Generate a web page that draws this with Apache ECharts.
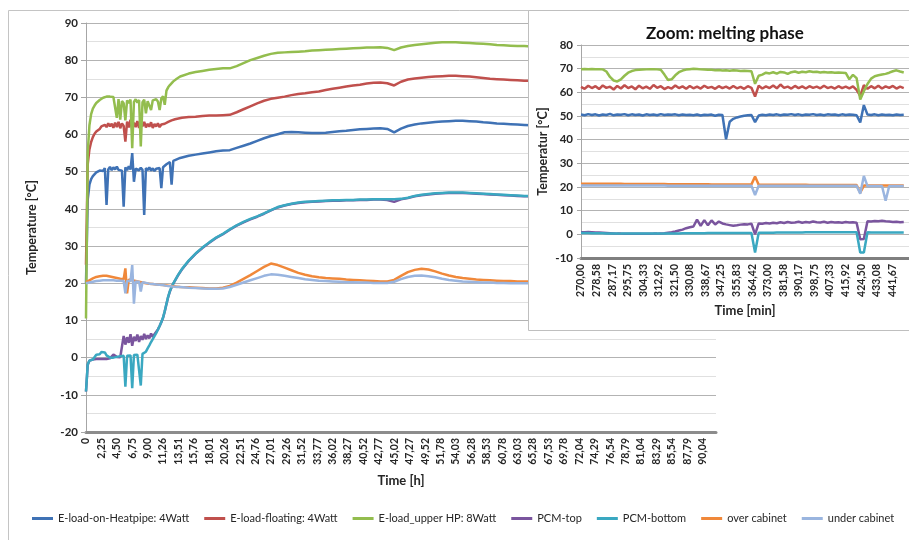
<!DOCTYPE html>
<html><head><meta charset="utf-8">
<script src="https://cdn.jsdelivr.net/npm/echarts@6/dist/echarts.min.js"></script>
<style>html,body{margin:0;padding:0;background:#fff}#c{width:909px;height:540px}</style>
</head><body><div id="c"></div>
<script>
// ---------- Main chart: time axis [h] ----------
const hourTicks = ['0','2,25','4,50','6,75','9,00','11,26','13,51','15,76','18,01','20,26','22,51','24,76','27,01','29,26','31,52','33,77','36,02','38,27','40,52','42,77','45,02','47,27','49,52','51,78','54,03','56,28','58,53','60,78','63,03','65,28','67,53','69,78','72,04','74,29','76,54','78,79','81,04','83,29','85,54','87,79','90,04'];
const HOUR_STEP = 2.2511;

const mainHours = [
  0,0.25,0.5,0.75,1,1.25,1.5,1.75,2,2.25,2.5,2.75,
  3,3.25,3.5,3.75,4,4.25,4.5,4.75,5,5.25,5.5,5.75,
  6,6.25,6.5,6.75,7,7.25,7.5,7.75,8,8.25,8.5,8.75,
  9,9.25,9.5,9.75,10,10.25,10.5,10.75,11,11.25,11.5,11.75,
  12,12.25,12.5,12.75,13,13.25,13.5,13.75,14,
  15,16,17,18,19,20,21,22,23,24,
  25,26,27,28,29,30,31,32,33,34,
  35,36,37,38,39,40,41,42,43,44,
  45,46,47,48,49,50,51,52,53,54,
  55,56,57,58,59,60,61,62,63,64,
  65,66,70,74,78,82,86,90,92];

const heatpipe = [
  20,42.5,46.5,48.0,48.8,49.3,49.8,50.0,50.3,50.8,50.2,51.0,
  41.1,50.6,51.3,50.4,51.2,50.6,51.4,50.5,51.0,50.3,40.6,51.2,
  50.4,51.5,50.6,55.0,47.3,50.8,51.3,50.4,51.1,50.5,38.4,51.0,
  50.4,51.2,50.3,50.9,50.2,50.8,50.4,51.0,45.6,51.2,51.6,52.0,
  52.3,52.6,46.5,52.9,53.1,53.3,53.5,53.7,53.9,
  54.3,54.6,54.9,55.2,55.5,55.7,55.8,56.4,57.0,57.6,
  58.3,59.0,59.6,60.1,60.6,60.7,60.6,60.5,60.4,60.4,
  60.5,60.7,60.9,61.0,61.2,61.4,61.5,61.6,61.7,61.5,
  60.6,61.6,62.3,62.7,63.0,63.2,63.4,63.5,63.6,63.7,
  63.7,63.6,63.5,63.3,63.2,63.0,62.9,62.8,62.7,62.6,
  62.5,62.4,62.3,62.2,62.1,62.0,61.9,61.9,61.9];

const floating = [
  25,52,56,58,59.3,60.2,60.8,61.3,61.5,62.2,61.8,62.6,
  62.0,63.0,62.2,62.9,61.8,63.2,62.0,63.4,61.7,63.0,62.3,58.1,
  63.5,61.9,64.0,61.5,63.2,62.0,63.6,61.8,63.0,62.2,63.4,61.9,
  62.9,62.1,63.3,61.8,62.8,62.2,63.0,62.0,62.7,62.3,62.9,63.1,
  63.4,63.6,63.8,63.9,64.1,64.2,64.3,64.4,64.5,
  64.7,64.8,65.0,65.1,65.1,65.2,65.3,66.0,66.8,67.6,
  68.4,69.1,69.6,69.9,70.2,70.6,70.9,71.1,71.4,71.6,
  72.0,72.3,72.6,72.9,73.2,73.4,73.7,73.9,74.0,73.8,
  73.2,74.2,74.8,75.1,75.3,75.5,75.6,75.7,75.8,75.8,
  75.7,75.6,75.4,75.2,75.0,74.9,74.8,74.7,74.6,74.5,
  74.5,74.4,74.2,74.0,73.9,73.8,73.7,73.6,73.6];

const upperHP = [
  10.5,55,62.5,65.5,67,67.8,68.5,68.9,69.3,69.6,69.9,70.1,
  70.2,70.4,70.2,70.3,70.1,70.3,64.5,69.5,64.0,69.0,68.4,63.8,
  69.2,68.5,69.4,56.3,68.8,69.5,68.6,69.3,56.8,68.7,69.4,65.7,
  69.0,68.5,66.6,69.2,68.8,69.5,68.9,66.6,69.7,70.3,68.0,71.8,
  72.7,73.3,73.8,74.3,74.7,75.0,75.3,75.6,75.8,
  76.4,76.8,77.1,77.4,77.6,77.8,77.8,78.4,79.2,80.0,
  80.6,81.2,81.7,82.0,82.1,82.2,82.3,82.4,82.6,82.7,
  82.8,82.9,83.0,83.1,83.2,83.3,83.4,83.4,83.5,83.3,
  82.7,83.4,83.8,84.1,84.3,84.5,84.7,84.8,84.8,84.8,
  84.7,84.6,84.5,84.4,84.3,84.1,84.0,83.9,83.8,83.8,
  83.7,83.7,83.5,83.3,83.2,83.0,82.9,82.8,82.8];

const pcmTop = [
  -9.1,-2.0,-0.8,-0.6,-0.5,-0.4,-0.4,-0.4,-0.4,-0.4,-0.4,-0.4,
  -0.4,-0.3,-0.2,0.3,0.8,0.5,0.2,0.0,0.1,0.3,5.8,3.5,
  5.5,4.0,6.3,3.2,5.6,4.5,6.2,4.2,5.8,4.8,6.4,5.0,
  6.0,5.2,6.5,5.6,6.3,6.8,7.6,8.5,9.5,10.7,12.4,14.4,
  16.3,17.8,18.9,19.9,20.7,21.5,22.3,23.0,23.7,
  26.0,27.9,29.5,30.9,32.2,33.2,34.4,35.5,36.4,37.2,
  37.9,38.7,39.6,40.4,40.9,41.3,41.6,41.8,41.9,42.0,
  42.1,42.2,42.2,42.3,42.3,42.4,42.4,42.5,42.5,42.4,
  41.9,42.6,42.9,43.4,43.7,43.9,44.1,44.2,44.3,44.3,
  44.3,44.2,44.1,44.0,43.9,43.8,43.7,43.6,43.5,43.4,
  43.4,43.3,43.2,43.1,43.0,43.0,42.9,42.9,42.9];

const pcmBottom = [
  -9.1,-1.8,-0.8,-0.6,-0.5,-0.3,0.8,1.3,0.9,1.5,1.0,1.4,
  0.6,0.2,0.0,-0.1,0.0,0.1,0.2,0.3,0.4,0.4,0.5,-7.8,
  0.5,0.6,0.6,-8.2,0.7,0.8,0.8,0.9,-7.5,1.0,1.2,1.6,
  2.5,3.3,4.2,5.0,5.8,6.6,7.5,8.5,9.6,10.8,12.5,14.5,
  16.4,17.9,19.0,20.0,20.8,21.6,22.4,23.1,23.8,
  26.1,28.0,29.6,31.0,32.3,33.3,34.5,35.6,36.5,37.3,
  38.0,38.8,39.7,40.5,41.0,41.4,41.7,41.9,42.0,42.1,
  42.2,42.3,42.3,42.4,42.4,42.5,42.5,42.6,42.6,42.6,
  42.6,42.7,43.0,43.5,43.8,44.0,44.2,44.3,44.4,44.4,
  44.4,44.3,44.2,44.1,44.0,43.9,43.8,43.7,43.6,43.5,
  43.5,43.4,43.3,43.2,43.1,43.1,43.0,43.0,43.0];

const overCabinet = [
  20.3,20.5,20.8,21.0,21.3,21.5,21.7,21.8,21.9,22.0,22.0,22.0,
  22.0,21.9,21.8,21.7,21.6,21.5,21.4,21.3,21.2,21.1,21.1,24.0,
  17.3,21.0,20.9,20.8,20.7,20.6,20.5,20.4,20.3,20.2,20.1,20.0,
  19.9,19.9,19.8,19.8,19.7,19.7,19.6,19.6,19.5,19.5,19.4,19.4,
  19.3,19.3,19.2,19.2,19.1,19.1,19.0,19.0,19.0,
  18.9,18.8,18.7,18.6,18.6,18.8,19.3,20.2,21.2,22.2,
  23.3,24.4,25.3,24.9,24.2,23.5,22.8,22.3,21.9,21.6,
  21.4,21.3,21.2,21.0,20.9,20.8,20.7,20.6,20.5,20.5,
  20.9,22.0,23.0,23.6,23.9,23.7,23.2,22.6,22.1,21.7,
  21.4,21.2,21.0,20.9,20.8,20.7,20.6,20.6,20.5,20.5,
  20.5,20.4,20.4,20.3,20.3,20.2,20.2,20.2,20.2];

const underCabinet = [
  20.0,20.1,20.2,20.3,20.4,20.5,20.6,20.6,20.7,20.7,20.8,20.8,
  20.8,20.8,20.8,20.8,20.8,20.8,20.7,20.7,20.7,20.7,20.6,17.3,
  20.6,20.6,20.6,24.9,14.5,20.5,20.5,20.4,17.8,20.3,20.2,20.1,
  20.0,19.9,19.8,19.8,19.7,19.7,19.6,19.6,19.5,19.5,19.4,19.3,
  19.3,19.2,19.2,19.1,19.1,19.0,19.0,19.0,18.9,
  18.8,18.7,18.6,18.5,18.5,18.6,19.0,19.6,20.2,20.8,
  21.4,22.0,22.4,22.3,22.0,21.7,21.4,21.1,20.9,20.7,
  20.6,20.5,20.4,20.3,20.3,20.2,20.2,20.1,20.1,20.1,
  20.4,21.1,21.7,22.0,22.1,21.9,21.6,21.2,20.9,20.7,
  20.5,20.4,20.3,20.2,20.2,20.1,20.1,20.0,20.0,20.0,
  20.0,20.0,20.0,20.0,20.0,20.0,20.0,20.0,20.0];

// ---------- Inset: "Zoom: melting phase", time axis [min] ----------
const minuteTicks = ['270,00','278,58','287,17','295,75','304,33','312,92','321,50','330,08','338,67','347,25','355,83','364,42','373,00','381,58','390,17','398,75','407,33','415,92','424,50','433,08','441,67'];
const MIN_STEP = 8.583333;

const insetMinutes = [
  270,272,274,276,278,280,282,284,286,288,
  290,292,294,296,298,300,302,304,306,308,
  310,312,314,316,318,320,322,324,326,328,
  330,332,334,336,338,340,342,344,346,348,
  350,352,354,356,358,360,362,364,366,368,
  370,372,374,376,378,380,382,384,386,388,
  390,392,394,396,398,400,402,404,406,408,
  410,412,414,416,418,420,422,424,426,428,
  430,432,434,436,438,440,442,444,446,448];

const zHeatpipe = [
  50.6,50.3,50.8,50.4,50.7,50.2,50.6,50.4,50.9,50.3,
  50.6,50.5,50.8,50.3,50.7,50.4,50.6,50.2,50.7,50.4,
  50.6,50.3,50.8,50.4,50.6,50.5,50.7,50.3,50.6,50.4,
  50.5,50.3,50.6,50.2,50.5,50.4,50.6,50.1,50.5,50.4,
  40.2,47.6,48.8,49.4,49.8,50.1,50.3,50.4,47.4,50.2,
  50.5,50.3,50.6,50.4,50.7,50.3,50.6,50.5,50.8,50.4,
  50.7,50.3,50.6,50.5,50.8,50.4,50.6,50.3,50.7,50.5,
  50.6,50.3,50.7,50.4,50.6,50.5,50.3,47.3,54.6,50.6,
  50.4,50.7,50.3,50.6,50.4,50.5,50.3,50.6,50.4,50.5];

const zFloating = [
  62.3,61.5,62.8,61.8,62.6,61.4,62.9,61.9,62.4,61.2,
  62.7,61.6,63.0,61.8,62.5,61.3,62.8,61.7,62.4,61.5,
  63.1,61.9,62.6,61.4,62.2,61.6,62.9,61.8,62.5,61.5,
  62.7,61.7,62.4,61.6,62.8,61.9,62.3,61.5,62.6,61.8,
  62.4,61.6,62.7,61.7,62.3,61.5,62.6,61.9,58.2,62.8,
  61.6,62.5,61.8,62.9,61.7,63.3,61.9,62.4,61.6,62.7,
  61.8,62.5,61.6,62.6,61.9,62.4,61.7,62.8,61.8,62.3,
  61.6,62.6,61.8,62.4,61.7,62.5,61.0,58.5,63.0,61.5,
  62.6,61.7,62.8,61.6,62.5,61.9,62.7,61.6,62.4,61.8];

const zUpperHP = [
  69.8,69.9,69.8,69.9,69.8,69.8,69.7,68.8,66.5,65.0,
  64.6,65.5,67.0,68.3,69.0,69.4,69.5,69.6,69.7,69.8,
  69.8,69.7,69.5,67.5,65.2,65.5,67.2,68.5,69.2,69.6,
  69.8,70.0,69.9,69.7,69.6,69.5,69.5,69.3,69.4,69.2,
  69.3,69.1,69.3,69.2,69.0,69.1,69.0,68.9,63.6,67.0,
  67.5,68.3,68.0,68.5,67.9,68.6,68.4,67.8,68.5,68.8,
  68.3,68.7,68.5,68.9,68.6,68.7,68.4,68.6,68.4,68.5,
  68.3,68.4,68.3,68.2,65.5,67.4,66.0,57.0,60.5,63.5,
  65.8,66.8,67.2,67.5,67.8,68.3,68.9,69.3,68.8,68.4];

const zPcmTop = [
  0.9,0.9,1.0,0.9,0.8,0.8,0.7,0.6,0.5,0.4,
  0.3,0.3,0.2,0.2,0.2,0.2,0.2,0.2,0.2,0.2,
  0.3,0.3,0.4,0.5,0.7,0.9,1.2,1.6,2.0,2.6,
  3.0,3.3,6.2,3.6,6.0,3.8,5.9,4.2,5.4,4.6,
  4.2,3.9,3.6,3.8,4.1,4.3,4.2,4.5,0.0,4.6,
  4.5,4.8,4.6,4.9,4.7,5.1,4.8,5.2,4.9,5.0,
  5.3,4.9,5.2,5.0,5.4,5.1,5.0,5.3,4.9,5.2,
  5.0,5.1,4.9,5.2,5.0,5.1,4.9,-2.1,-2.0,5.5,
  5.4,5.6,5.5,5.7,5.5,5.4,5.2,5.3,5.1,5.2];

const zPcmBottom = [
  0.6,0.6,0.6,0.5,0.5,0.5,0.5,0.4,0.4,0.4,
  0.4,0.3,0.3,0.3,0.3,0.3,0.3,0.3,0.3,0.3,
  0.3,0.3,0.3,0.4,0.4,0.4,0.4,0.4,0.5,0.5,
  0.5,0.5,0.5,0.5,0.5,0.6,0.6,0.6,0.6,0.6,
  0.6,0.6,0.6,0.6,0.6,0.6,0.6,0.6,-7.7,0.7,
  0.7,0.7,0.7,0.7,0.8,0.8,0.8,0.8,0.8,0.8,
  0.8,0.8,0.9,0.9,0.9,0.9,0.9,0.9,0.9,0.9,
  0.9,0.9,0.9,0.9,0.9,0.9,0.9,-7.7,-7.7,0.9,
  0.8,0.8,0.8,0.8,0.8,0.8,0.8,0.8,0.8,0.8];

const zOverCabinet = [
  21.4,21.4,21.4,21.4,21.4,21.4,21.4,21.4,21.4,21.4,
  21.4,21.4,21.3,21.3,21.3,21.3,21.3,21.3,21.3,21.3,
  21.3,21.3,21.3,21.3,21.2,21.2,21.2,21.2,21.2,21.2,
  21.2,21.2,21.2,21.2,21.2,21.2,21.1,21.1,21.1,21.1,
  21.1,21.1,21.1,21.1,21.1,21.1,21.1,21.1,24.4,20.9,
  20.9,20.9,20.9,20.9,20.9,20.9,20.9,20.9,20.9,20.9,
  20.9,20.9,20.9,20.8,20.8,20.8,20.8,20.8,20.8,20.8,
  20.8,20.8,20.8,20.8,20.8,20.8,20.8,17.6,20.6,20.6,
  20.6,20.6,20.6,20.6,20.6,20.6,20.6,20.6,20.6,20.6];

const zUnderCabinet = [
  20.6,20.6,20.6,20.6,20.6,20.6,20.6,20.6,20.6,20.6,
  20.6,20.6,20.6,20.6,20.6,20.6,20.6,20.6,20.6,20.6,
  20.6,20.6,20.6,20.6,20.5,20.5,20.5,20.5,20.5,20.5,
  20.5,20.5,20.5,20.5,20.5,20.5,20.5,20.5,20.5,20.5,
  20.5,20.5,20.5,20.5,20.5,20.5,20.5,20.5,16.6,20.5,
  20.5,20.5,20.5,20.5,20.5,20.5,20.5,20.5,20.5,20.5,
  20.5,20.5,20.5,20.5,20.5,20.5,20.5,20.5,20.5,20.5,
  20.5,20.5,20.5,20.5,20.5,20.5,20.5,17.2,24.7,20.4,
  20.4,20.4,20.4,20.4,14.2,20.4,20.4,20.4,20.4,20.4];

const seriesNames = ['E-load-on-Heatpipe: 4Watt','E-load-floating: 4Watt','E-load_upper HP: 8Watt','PCM-top','PCM-bottom','over cabinet','under cabinet'];
const seriesColors = ['#3f72b5','#c0504d','#93bd4e','#7a559e','#3aa8c1','#f0883a','#9ab5df'];
const mainSeries = [heatpipe, floating, upperHP, pcmTop, pcmBottom, overCabinet, underCabinet];
const insetSeries = [zHeatpipe, zFloating, zUpperHP, zPcmTop, zPcmBottom, zOverCabinet, zUnderCabinet];

// ---------- build ----------
const FONT = 'Lato, "DejaVu Sans", sans-serif';
const TXT = '#262626';

function tickFormatter(labels, step, min) {
  return function (v) {
    const k = Math.round((v - min) / step);
    if (Math.abs(v - min - k * step) > 1e-3) return '';
    return labels[k] !== undefined ? labels[k] : '';
  };
}

const chart = echarts.init(document.getElementById('c'), null, {renderer: 'canvas'});

const series = [];
seriesNames.forEach((n, i) => {
  series.push({
    name: n, type: 'line', xAxisIndex: 0, yAxisIndex: 0,
    data: mainHours.map((t, j) => [t, mainSeries[i][j]]),
    showSymbol: false, symbol: 'none', z: 2, silent: true,
    lineStyle: {width: 2.5, color: seriesColors[i]}, itemStyle: {color: seriesColors[i]}
  });
});
seriesNames.forEach((n, i) => {
  series.push({
    name: n, type: 'line', xAxisIndex: 1, yAxisIndex: 1,
    data: insetMinutes.map((t, j) => [t, insetSeries[i][j]]),
    showSymbol: false, symbol: 'none', z: 10, silent: true,
    lineStyle: {width: 2.5, color: seriesColors[i]}, itemStyle: {color: seriesColors[i]}
  });
});

const labelStyle = {fontFamily: FONT, fontWeight: 'bold', color: TXT};

chart.setOption({
  animation: false,
  backgroundColor: '#fff',
  grid: [
    {left: 86, top: 23, width: 630, height: 409},
    {left: 581, top: 45, width: 332, height: 213}
  ],
  xAxis: [
    {
      type: 'value', gridIndex: 0, min: 0, max: 92, interval: HOUR_STEP,
      axisLine: {onZero: false, lineStyle: {color: '#8c8c8c', width: 3}},
      axisTick: {show: false}, splitLine: {show: false},
      axisLabel: Object.assign({rotate: 90, fontSize: 10.5, margin: 6, showMaxLabel: false,
        formatter: tickFormatter(hourTicks, HOUR_STEP, 0)}, labelStyle),
      name: 'Time [h]', nameLocation: 'middle', nameGap: 42,
      nameTextStyle: Object.assign({fontSize: 13}, labelStyle)
    },
    {
      type: 'value', gridIndex: 1, min: 270, max: 450.9, interval: MIN_STEP, z: 8,
      axisLine: {onZero: false, lineStyle: {color: '#7f7f7f', width: 3}},
      axisTick: {show: false}, splitLine: {show: false},
      axisLabel: Object.assign({rotate: 90, fontSize: 10.5, margin: 6, showMaxLabel: false,
        formatter: tickFormatter(minuteTicks, MIN_STEP, 270)}, labelStyle),
      name: 'Time [min]', nameLocation: 'middle', nameGap: 46,
      nameTextStyle: Object.assign({fontSize: 13}, labelStyle)
    }
  ],
  yAxis: [
    {
      type: 'value', gridIndex: 0, min: -20, max: 90, interval: 10,
      axisLine: {show: true, lineStyle: {color: '#a6a6a6', width: 1}},
      axisTick: {show: true, length: 5, lineStyle: {color: '#a6a6a6'}},
      axisLabel: Object.assign({fontSize: 11.5, margin: 8}, labelStyle),
      splitLine: {show: true, lineStyle: {color: '#b3b3b3', width: 1}},
      minorTick: {show: false, splitNumber: 2},
      minorSplitLine: {show: true, lineStyle: {color: '#e0e0e0', width: 1}},
      name: 'Temperature [°C]', nameLocation: 'middle', nameGap: 48,
      nameTextStyle: Object.assign({fontSize: 12.5}, labelStyle)
    },
    {
      type: 'value', gridIndex: 1, min: -10, max: 80, interval: 10, z: 8,
      axisLine: {show: true, lineStyle: {color: '#a6a6a6', width: 1}},
      axisTick: {show: true, length: 4, lineStyle: {color: '#a6a6a6'}},
      axisLabel: Object.assign({fontSize: 11.5, margin: 8}, labelStyle),
      splitLine: {show: true, lineStyle: {color: '#b3b3b3', width: 1}},
      minorTick: {show: false, splitNumber: 2},
      minorSplitLine: {show: true, lineStyle: {color: '#e0e0e0', width: 1}},
      name: 'Temperatur [°C]', nameLocation: 'middle', nameGap: 32,
      nameTextStyle: Object.assign({fontSize: 12.5}, labelStyle)
    }
  ],
  legend: {
    data: seriesNames, left: 27, top: 508, width: 880, icon: 'rect',
    itemWidth: 21, itemHeight: 3, itemGap: 15, selectedMode: false,
    textStyle: {fontFamily: FONT, fontSize: 11, color: TXT}
  },
  graphic: [
    {type: 'rect', silent: true, z: 0, shape: {x: 8.5, y: 10.5, width: 1000, height: 600},
      style: {fill: 'none', stroke: '#c4c4c4', lineWidth: 1}},
    {type: 'rect', silent: true, z: 5, shape: {x: 528.5, y: 10.5, width: 420, height: 320},
      style: {fill: '#ffffff', stroke: '#bfbfbf', lineWidth: 1}},
    {type: 'text', silent: true, z: 20, x: 725, y: 34,
      style: {text: 'Zoom: melting phase', fontFamily: FONT, fontSize: 17, fontWeight: 'bold',
        fill: '#111', align: 'center', verticalAlign: 'middle'}}
  ],
  series: series
});
</script>
</body></html>
